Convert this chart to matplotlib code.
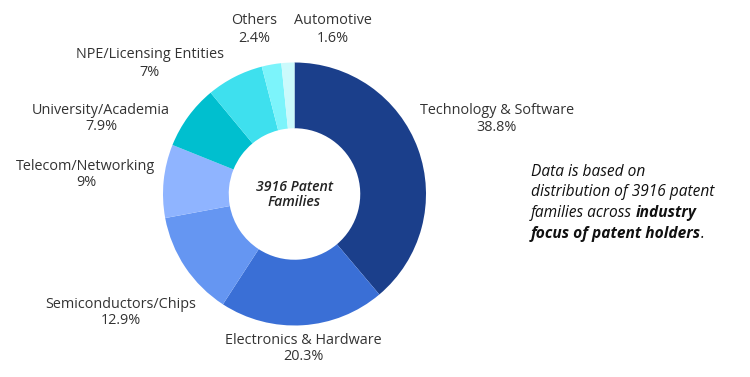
import matplotlib
matplotlib.use("Agg")
import matplotlib.pyplot as plt

categories = ["Technology & Software", "Electronics & Hardware", "Semiconductors/Chips",
              "Telecom/Networking", "University/Academia", "NPE/Licensing Entities",
              "Others", "Automotive"]
shares = [38.8, 20.3, 12.9, 9.0, 7.9, 7.0, 2.4, 1.6]
share_labels = ["38.8%", "20.3%", "12.9%", "9%", "7.9%", "7%", "2.4%", "1.6%"]
colors = ["#1b3f8b", "#3a6fd6", "#6596f2", "#8fb4ff", "#00bfcf", "#3ee0ee", "#7cf4fb", "#cbfafc"]

# label centres in pixels (x, y of name line)
label_pos = [(497, 111), (303, 340), (121, 304), (86, 166), (101, 110), (150, 55), (254, 21), (333, 21)]

W, H = 750, 377
fig = plt.figure(figsize=(W / 100, H / 100), dpi=100)
plt.rcParams['font.family'] = ['Open Sans', 'DejaVu Sans']

cx, cy, r = 294.5, 194, 131.5
ax = fig.add_axes([(cx - r) / W, (H - cy - r) / H, 2 * r / W, 2 * r / H])
ax.pie(shares, colors=colors, startangle=90, counterclock=False,
       wedgeprops=dict(width=0.5, edgecolor="none"))
ax.set_xlim(-1, 1)
ax.set_ylim(-1, 1)
ax.set_aspect("equal")
ax.axis("off")

txt = "#333333"
for name, pct, (x, y) in zip(categories, share_labels, label_pos):
    fig.text(x / W, 1 - y / H, name, ha="center", va="center", fontsize=10.4, color=txt)
    fig.text(x / W, 1 - (y + 17) / H, pct, ha="center", va="center", fontsize=10.4, color=txt)

fig.text(cx / W, 1 - 187 / H, "3916 Patent", ha="center", va="center", fontsize=10.2,
         style="italic", fontweight="semibold", color="#222222")
fig.text(cx / W, 1 - 202 / H, "Families", ha="center", va="center", fontsize=10.2,
         style="italic", fontweight="semibold", color="#222222")

# note on the right, with bold pieces
renderer = fig.canvas.get_renderer()
note = [
    [("Data is based on", "normal")],
    [("distribution of 3916 patent", "normal")],
    [("families across", "normal"), ("industry", "bold")],
    [("focus of patent holders", "bold"), (".", "normal")],
]
x0, y0, dy = 531, 172, 20.5
for i, parts in enumerate(note):
    x = x0
    for j, (s, w) in enumerate(parts):
        t = fig.text(x / W, 1 - (y0 + i * dy) / H, s, ha="left", va="center", fontsize=11.2,
                     style="italic", fontweight=w, color="#111111")
        x += t.get_window_extent(renderer).width
        if j + 1 < len(parts) and parts[j + 1][0] != ".":
            x += 4

fig.savefig("out.png", dpi=100)
